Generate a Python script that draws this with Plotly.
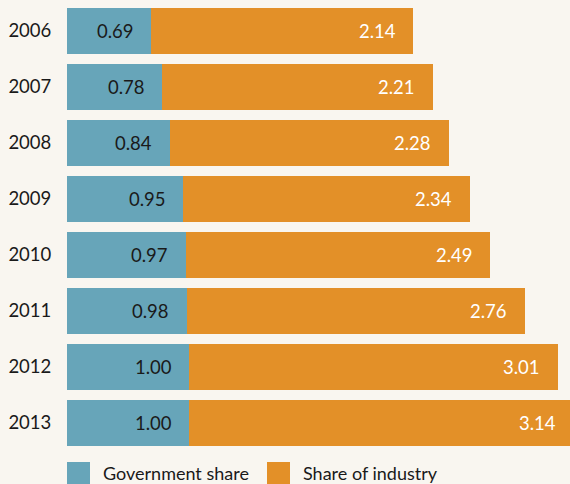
import plotly.graph_objects as go

years = ["2006", "2007", "2008", "2009", "2010", "2011", "2012", "2013"]
government_share = [0.69, 0.78, 0.84, 0.95, 0.97, 0.98, 1.00, 1.00]
industry_share = [2.14, 2.21, 2.28, 2.34, 2.49, 2.76, 3.01, 3.14]
legend_labels = ["Government share", "Share of industry"]

BLUE = "#67a5b9"
ORANGE = "#e39028"
BG = "#f9f6f0"
FONT = "Lato"

W, H = 570, 484
ML, MR, MT, MB = 67, 0, 3, 33
PLOT_W = W - ML - MR
PLOT_H = H - MT - MB
X_MAX = 4.11
PX_PER_UNIT = PLOT_W / X_MAX
PAD = 15.5 / PX_PER_UNIT

fig = go.Figure()
fig.add_trace(go.Bar(
    y=years, x=government_share, orientation="h", name=legend_labels[0],
    marker=dict(color=BLUE, line=dict(width=0)), hoverinfo="skip",
))
fig.add_trace(go.Bar(
    y=years, x=industry_share, orientation="h", name=legend_labels[1],
    marker=dict(color=ORANGE, line=dict(width=0)), hoverinfo="skip",
))

annotations = []
for i, (g, ind) in enumerate(zip(government_share, industry_share)):
    annotations.append(dict(
        x=g - PAD, y=i, xref="x", yref="y", text=f"{g:.2f}",
        showarrow=False, xanchor="right", yanchor="middle",
        font=dict(family=FONT, size=18.5, color="#1a1a1a"),
    ))
    annotations.append(dict(
        x=g + ind - PAD, y=i, xref="x", yref="y", text=f"{ind:.2f}",
        showarrow=False, xanchor="right", yanchor="middle",
        font=dict(family=FONT, size=18.5, color="#ffffff"),
    ))


def px_x(p):
    return (p - ML) / PLOT_W


def px_y(p):
    return (H - MB - p) / PLOT_H


shapes = []
legend_pos = [(67, 101), (267, 301)]
for (sx, tx), label, col in zip(legend_pos, legend_labels, [BLUE, ORANGE]):
    shapes.append(dict(
        type="rect", xref="paper", yref="paper",
        x0=px_x(sx), x1=px_x(sx + 23), y0=px_y(462), y1=px_y(490),
        fillcolor=col, line=dict(width=0), layer="above",
    ))
    annotations.append(dict(
        x=px_x(tx), y=px_y(473), xref="paper", yref="paper", text=label,
        showarrow=False, xanchor="left", yanchor="middle",
        font=dict(family=FONT, size=18, color="#1a1a1a"),
    ))

fig.update_layout(
    width=W, height=H,
    margin=dict(l=ML, r=MR, t=MT, b=MB, pad=0),
    barmode="stack", bargap=0.196,
    paper_bgcolor=BG, plot_bgcolor=BG,
    showlegend=False, hovermode=False,
    xaxis=dict(range=[0, X_MAX], visible=False, fixedrange=True),
    yaxis=dict(
        type="category", categoryorder="array", categoryarray=years,
        range=[len(years) - 0.5, -0.5], autorange=False,
        showgrid=False, zeroline=False,
        showline=False, ticks="outside", ticklen=11, tickcolor=BG,
        tickfont=dict(family=FONT, size=18.5, color="#1a1a1a"),
        fixedrange=True,
    ),
    annotations=annotations, shapes=shapes,
)

fig.write_html(
    "out.html",
    config={"displayModeBar": False},
    post_script="document.body.style.margin='0';document.body.style.overflow='hidden';",
)
